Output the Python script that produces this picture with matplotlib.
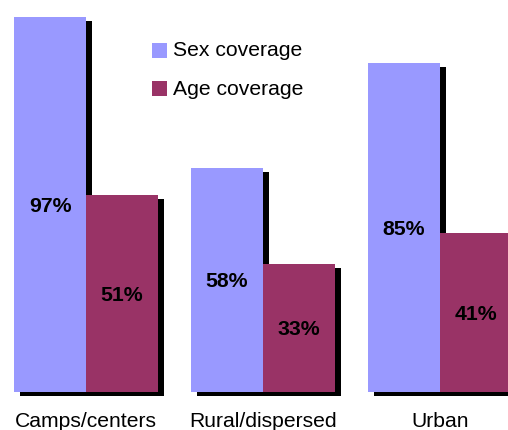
import matplotlib
matplotlib.use("Agg")
import matplotlib.pyplot as plt
from matplotlib.patches import Rectangle
from matplotlib.transforms import offset_copy
import numpy as np

categories = ["Camps/centers", "Rural/dispersed", "Urban"]
sex_coverage = [97, 58, 85]
age_coverage = [51, 33, 41]
series_names = ["Sex coverage", "Age coverage"]
colors = ["#9999FF", "#993366"]

W, H = 508, 430
fig = plt.figure(figsize=(W / 100, H / 100), dpi=100)
plt.rcParams['font.family'] = ['Liberation Sans', 'DejaVu Sans']

base_px = 392
ax = fig.add_axes([0, (H - base_px) / H, 1, base_px / H])
px_per_unit = 177.0
origin_px = 86.0
x0 = -origin_px / px_per_unit
x1 = (W - origin_px) / px_per_unit
ax.set_xlim(x0, x1)
ymax = base_px / 3.87
ax.set_ylim(0, ymax)
ax.axis("off")

bw = 72 / px_per_unit
x = np.arange(len(categories))
dx = 6 / px_per_unit
dy = 4 / 3.87

series = [sex_coverage, age_coverage]
offsets = [-bw / 2, bw / 2]
# shadows
for vals, off in zip(series, offsets):
    for xi, v in zip(x, vals):
        ax.add_patch(Rectangle((xi + off - bw / 2 + dx, -dy), bw, v,
                               facecolor="black", edgecolor="none",
                               clip_on=False, zorder=1))
# value labels: baseline ~7 px below bar middle
lab_tr = offset_copy(ax.transData, fig=fig, x=0, y=-7.2, units="dots")
for vals, off, c in zip(series, offsets, colors):
    ax.bar(x + off, vals, width=bw, color=c, zorder=2, linewidth=0)
    for xi, v in zip(x, vals):
        ax.text(xi + off, v / 2, f"{v}%", ha="center", va="baseline",
                fontsize=15.3, fontweight="bold", color="black", zorder=3,
                transform=lab_tr)

cat_tr = offset_copy(ax.transData, fig=fig, x=0, y=-(427 - base_px), units="dots")
for xi, cat in zip(x, categories):
    ax.text(xi, 0, cat, ha="center", va="baseline", fontsize=15.2,
            color="black", clip_on=False, transform=cat_tr)

# legend
leg_items = [(series_names[0], colors[0], 43, 56), (series_names[1], colors[1], 81, 95)]
for name, c, ytop, ybase in leg_items:
    fig.add_artist(Rectangle((152 / W, 1 - (ytop + 15) / H), 15 / W, 15 / H,
                             transform=fig.transFigure, facecolor=c,
                             edgecolor="none"))
    fig.text(173 / W, 1 - ybase / H, name, ha="left", va="baseline", fontsize=15.2)

fig.savefig("out.png", dpi=100)
